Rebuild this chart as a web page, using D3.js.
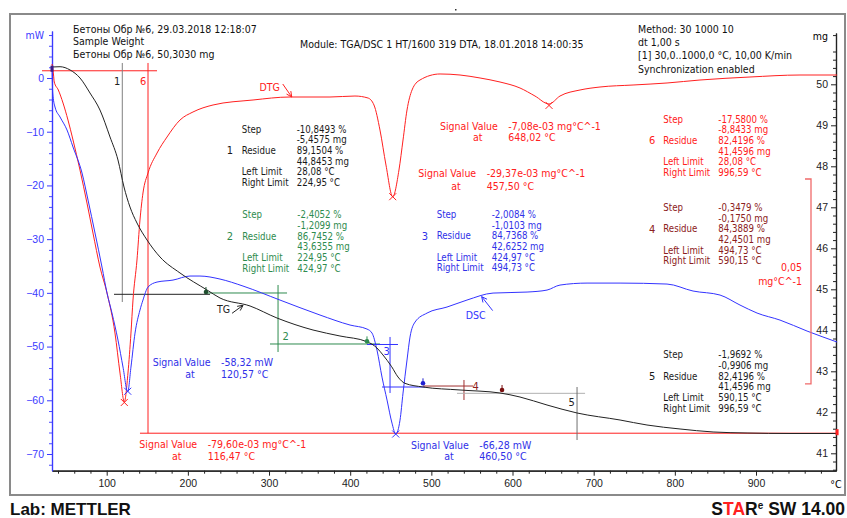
<!DOCTYPE html>
<html>
<head>
<meta charset="utf-8">
<script src="https://cdn.jsdelivr.net/npm/d3@7"></script>
<style>
  body { margin: 0; background: #fff; }
  svg { display: block; font-family: "DejaVu Sans Condensed", "DejaVu Sans", sans-serif; font-stretch: condensed; }
</style>
</head>
<body>
<svg id="chart" width="847" height="518"></svg>
<script>
// ---- data ----
// DSC (mW) vs temperature (°C)
const dscT  = [32.6,33.5,36.3,42.5,51.1,58.5,69.6,77.0,85.6,94.2,100.4,106.5,113.9,120.1,125.9,129.9,134.9,141.0,144.7,150.9,162.0,181.7,202.6,214.9,239.6,267.9,313.5,362.8,399.8,420.7,426.9,433.0,439.2,445.4,451.5,456.1,461.4,465.1,470.0,473.7,479.9,494.7,519.3,543.9,576.0,617.9,642.5,658.5,691.8,732.5,790.4,822.4,855.7,880.3,901.3,929.6,962.9,999.9];
const dscMW = [1.86,-2.79,-5.40,-7.26,-9.68,-12.85,-17.69,-22.72,-28.86,-35.20,-40.04,-43.76,-48.79,-53.82,-58.42,-53.82,-47.49,-43.20,-41.34,-38.92,-37.99,-37.62,-36.87,-36.87,-37.43,-38.73,-41.34,-44.13,-45.99,-46.74,-47.49,-50.65,-55.68,-59.96,-64.25,-66.29,-63.69,-58.66,-52.51,-48.23,-45.44,-43.76,-42.64,-41.34,-40.04,-39.85,-39.48,-38.55,-38.18,-38.18,-38.36,-39.66,-40.41,-42.27,-43.76,-45.07,-47.11,-49.16];

// TG (mg)
const tgT  = [32.6,42.5,54.9,67.1,79.4,91.7,104.1,113.9,121.3,128.7,137.3,149.7,165.7,190.3,223.6,239.6,276.6,309.8,354.2,387.4,420.7,433.0,440.4,451.1,458.9,467.5,489.7,535.3,584.6,609.2,642.5,679.5,732.5,765.7,806.4,847.1,889.0,941.9,999.9];
const tgMG = [50.422,50.429,50.349,50.154,49.788,49.373,48.715,48.154,47.495,47.007,46.617,46.202,45.788,45.398,44.983,44.788,44.593,44.300,44.007,43.861,43.722,43.568,43.398,43.112,42.861,42.707,42.617,42.544,42.471,42.373,42.178,41.983,41.812,41.690,41.593,41.520,41.495,41.483,41.483];

// DTG (1e-3 mg/°C)
const dtgT = [32.6,34.5,35.4,40.4,46.2,52.3,58.5,67.1,75.7,83.1,91.7,100.4,110.2,116.4,121.7,126.2,129.9,132.4,137.3,141.0,144.7,150.9,162.0,174.3,190.3,206.3,231.0,280.3,325.8,375.1,405.9,421.9,429.3,436.7,444.1,452.4,460.1,465.1,470.0,476.2,486.0,510.7,535.3,560.0,584.6,609.2,627.7,645.0,658.5,683.2,707.8,748.5,790.4,831.0,892.6,954.2,999.9];
const dtgV = [3.03,0.34,-1.37,-3.32,-6.50,-10.65,-15.53,-22.86,-30.92,-38.24,-46.54,-52.89,-62.66,-72.43,-79.44,-72.43,-62.66,-54.60,-44.83,-35.07,-28.47,-23.59,-18.71,-14.80,-10.65,-8.69,-6.98,-5.76,-5.03,-5.03,-4.79,-5.27,-6.98,-13.09,-21.64,-29.38,-22.86,-15.53,-8.21,-3.32,-0.88,0.59,0.34,-0.39,-1.37,-2.83,-4.79,-6.74,-4.79,-3.32,-2.59,-2.10,-1.61,-0.88,-0.15,0.34,0.34];

// axis ticks
const xMajor  = [100,200,300,400,500,600,700,800,900];
const mwMajor = [0,-10,-20,-30,-40,-50,-60,-70];
const mgMajor = [41,42,43,44,45,46,47,48,49,50];

// evaluated peaks: [T, value]
const dscPeaks = [[125.9,-58.32],[456.1,-66.28]];
const dtgPeaks = [[121.7,-79.60],[452.4,-29.37],[645.0,-7.08]];

// step evaluation lines in (°C, mg)
const stepLines = [
  {c:"#ff2020", p:[[20.3,50.33],[162.0,50.33]]},
  {c:"#ff2020", p:[[150.9,50.52],[150.9,41.49]]},
  {c:"#ff2020", p:[[141.0,41.49],[999.9,41.49]]},
  {c:"#808080", p:[[119.2,50.52],[119.2,44.69]]},
  {c:"#222222", p:[[109.0,44.878],[227.3,44.878]]},
  {c:"#2e8b4e", p:[[221.1,44.91],[322.2,44.91]]},
  {c:"#2e8b4e", p:[[311.1,45.105],[311.1,43.471]]},
  {c:"#2e8b4e", p:[[301.2,43.666],[436.7,43.666]]},
  {c:"#3333ff", p:[[420.7,43.654],[458.9,43.654]]},
  {c:"#3333ff", p:[[449.1,43.837],[449.1,42.471]]},
  {c:"#3333ff", p:[[439.2,42.617],[492.2,42.617]]},
  {c:"#a03030", p:[[489.7,42.641],[551.3,42.641]]},
  {c:"#a03030", p:[[540.2,42.788],[540.2,42.300]]},
  {c:"#b0b0b0", p:[[531.6,42.463],[689.4,42.463]]},
  {c:"#707070", p:[[679.5,42.617],[679.5,41.324]]}
];
const stepDots = [[222.3,44.934,"#1f4f2f"],[420.7,43.73,"#2e8b4e"],[489.7,42.707,"#2020d0"],[587.1,42.544,"#7a1010"]];

const blockLabels = ["Step","","Residue","","Left Limit","Right Limit"];
const step1 = ["-10,8493 %","-5,4575 mg","89,1504 %","44,8453 mg","28,08 °C","224,95 °C"];
const step2 = ["-2,4052 %","-1,2099 mg","86,7452 %","43,6355 mg","224,95 °C","424,97 °C"];
const step3 = ["-2,0084 %","-1,0103 mg","84,7368 %","42,6252 mg","424,97 °C","494,73 °C"];
const step4 = ["-0,3479 %","-0,1750 mg","84,3889 %","42,4501 mg","494,73 °C","590,15 °C"];
const step5 = ["-1,9692 %","-0,9906 mg","82,4196 %","41,4596 mg","590,15 °C","996,59 °C"];
const step6 = ["-17,5800 %","-8,8433 mg","82,4196 %","41,4596 mg","28,08 °C","996,59 °C"];

// ---- scales ----
const x     = d3.scaleLinear().domain([100, 900]).range([106.7, 756]);
const yMW   = d3.scaleLinear().domain([0, -70]).range([78, 454]);
const yMG   = d3.scaleLinear().domain([50, 41]).range([84.3, 453.3]);
const yDTG  = d3.scaleLinear().domain([0, -50]).range([76.4, 281.2]);

const svg = d3.select("#chart");
const BLUE = "#3333ff", RED = "#ff2020", GREEN = "#2e8b4e", DRED = "#8b2020";

// frame
svg.append("rect").attr("x", 10).attr("y", 14).attr("width", 835).attr("height", 481)
  .attr("fill", "none").attr("stroke", "#8a8a8a").attr("stroke-width", 2);
svg.append("rect").attr("x", 455).attr("y", 9).attr("width", 1.5).attr("height", 1.5).attr("fill", "#333");

// ---- axes ----
function styleAxis(g, color, size) {
  g.selectAll("path, line").attr("stroke", color);
  g.selectAll("text").attr("fill", color).attr("font-size", size);
}
const xA = x.copy().domain([x.invert(52), x.invert(836)]).range([52, 836]);
const minorX = d3.range(40, 1000, 20).filter(d => d % 100 !== 0);
svg.append("g").attr("transform", "translate(0,470.7)")
  .call(d3.axisBottom(xA).tickValues(minorX).tickSize(3).tickSizeOuter(0).tickFormat(""))
  .call(g => styleAxis(g, "#222", 10.5));
svg.append("g").attr("transform", "translate(0,470.7)")
  .call(d3.axisBottom(xA).tickValues(xMajor).tickSize(5).tickSizeOuter(0).tickPadding(4))
  .call(g => styleAxis(g, "#222", 10.5));
svg.append("text").attr("x", 836).attr("y", 484).attr("dy", "0.35em").attr("text-anchor", "middle")
  .attr("font-size", 10.5).text("°C");

const yMWa = yMW.copy().domain([yMW.invert(31), yMW.invert(470.7)]).range([31, 470.7]);
const minorMW = d3.range(8, -73, -2).filter(d => d % 10 !== 0);
svg.append("g").attr("transform", "translate(52,0)")
  .call(d3.axisLeft(yMWa).tickValues(minorMW).tickSize(3).tickSizeOuter(0).tickFormat(""))
  .call(g => styleAxis(g, "#4a4aff", 10.5));
svg.append("g").attr("transform", "translate(52,0)")
  .call(d3.axisLeft(yMWa).tickValues(mwMajor).tickSize(5).tickSizeOuter(0).tickPadding(3))
  .call(g => styleAxis(g, "#3a3aff", 10.5));
svg.append("text").attr("x", 44).attr("y", 35.5).attr("dy", "0.35em").attr("text-anchor", "end")
  .attr("font-size", 10.5).attr("fill", "#3a3aff").text("mW");

const yMGa = yMG.copy().domain([yMG.invert(33), yMG.invert(470.7)]).range([33, 470.7]);
const minorMG = d3.range(406, 513, 2).map(d => d / 10).filter(d => Math.abs(d - Math.round(d)) > 0.01);
svg.append("g").attr("transform", "translate(836,0)")
  .call(d3.axisLeft(yMGa).tickValues(minorMG).tickSize(3).tickSizeOuter(0).tickFormat(""))
  .call(g => styleAxis(g, "#222", 10.5));
svg.append("g").attr("transform", "translate(836,0)")
  .call(d3.axisLeft(yMGa).tickValues(mgMajor).tickSize(5).tickSizeOuter(0).tickPadding(3))
  .call(g => styleAxis(g, "#222", 10.5));
svg.append("text").attr("x", 828).attr("y", 36).attr("dy", "0.35em").attr("text-anchor", "end")
  .attr("font-size", 10.5).text("mg");
svg.selectAll(".domain").attr("stroke-width", 1.2);

// ---- step evaluation lines ----
svg.append("g").selectAll("line").data(stepLines).join("line")
  .attr("x1", d => x(d.p[0][0])).attr("y1", d => yMG(d.p[0][1]))
  .attr("x2", d => x(d.p[1][0])).attr("y2", d => yMG(d.p[1][1]))
  .attr("stroke", d => d.c).attr("stroke-width", 1);

// ---- curves ----
const lineOf = (xs, ys, yScale) => d3.line().curve(d3.curveMonotoneX)
  .x((d, i) => x(xs[i])).y((d, i) => yScale(ys[i]))(xs);
svg.append("path").attr("d", lineOf(dtgT, dtgV, yDTG)).attr("fill", "none").attr("stroke", RED).attr("stroke-width", 1);
svg.append("path").attr("d", lineOf(dscT, dscMW, yMW)).attr("fill", "none").attr("stroke", BLUE).attr("stroke-width", 1);
svg.append("path").attr("d", lineOf(tgT, tgMG, yMG)).attr("fill", "none").attr("stroke", "#222").attr("stroke-width", 1);

// start / end markers
svg.append("rect").attr("x", x(32.6) - 1.5).attr("y", yMG(50.38) - 3).attr("width", 3).attr("height", 6).attr("fill", "#3a1a8a");
svg.append("rect").attr("x", x(999.9) - 1.5).attr("y", yMG(41.49) - 4).attr("width", 3).attr("height", 6).attr("fill", RED);

// dots on TG
svg.append("g").selectAll("g").data(stepDots).join("g")
  .attr("transform", d => `translate(${x(d[0])},${yMG(d[1])})`)
  .call(g => {
    g.append("line").attr("y1", -5).attr("y2", 0).attr("stroke", d => d[2]);
    g.append("circle").attr("r", 2.3).attr("fill", d => d[2]);
  });

// peak crosses
function cross(px, py, color) {
  const s = 3.5;
  svg.append("path").attr("d", `M${px - s},${py - s}L${px + s},${py + s}M${px - s},${py + s}L${px + s},${py - s}`)
    .attr("stroke", color).attr("stroke-width", 1).attr("fill", "none");
}
dscPeaks.forEach(d => cross(x(d[0]), yMW(d[1]), BLUE));
dtgPeaks.forEach(d => cross(x(d[0]), yDTG(d[1]), RED));

// DTG scale bar 0,05 mg°C^-1
const barTop = yDTG(-25.05), barBot = yDTG(-75.05);
svg.append("path").attr("d", `M805,${barTop}H811V${barBot}H805`).attr("fill", "none")
  .attr("stroke", "#f06a6a").attr("stroke-width", 1.3);
svg.append("text").attr("x", 802).attr("y", 267.5).attr("dy", "0.35em").attr("text-anchor", "end")
  .attr("font-size", 10.5).attr("fill", RED).text("0,05");
svg.append("text").attr("x", 802).attr("y", 281.7).attr("dy", "0.35em").attr("text-anchor", "end")
  .attr("font-size", 10.5).attr("fill", RED).text("mg°C^-1");

// ---- curve name arrows ----
function arrow(x1, y1, x2, y2, color) {
  const a = Math.atan2(y2 - y1, x2 - x1), L = 6, w = 0.45;
  svg.append("path")
    .attr("d", `M${x1},${y1}L${x2},${y2}M${x2 - L * Math.cos(a - w)},${y2 - L * Math.sin(a - w)}L${x2},${y2}L${x2 - L * Math.cos(a + w)},${y2 - L * Math.sin(a + w)}`)
    .attr("stroke", color).attr("fill", "none").attr("stroke-width", 1);
}
const tipDTG = [x(328), yDTG(-5.03)], tipTG = [x(268), yMG(44.61)], tipDSC = [x(562), yMW(-40.7)];
arrow(tipDTG[0] - 9, tipDTG[1] - 13, tipDTG[0], tipDTG[1], RED);
svg.append("text").attr("x", tipDTG[0] - 12).attr("y", tipDTG[1] - 10).attr("dy", "0.35em").attr("text-anchor", "end")
  .attr("font-size", 10.5).attr("fill", RED).text("DTG");
arrow(tipTG[0] - 11, tipTG[1] + 8, tipTG[0], tipTG[1], "#222");
svg.append("text").attr("x", tipTG[0] - 13).attr("y", tipTG[1] + 4).attr("dy", "0.35em").attr("text-anchor", "end")
  .attr("font-size", 10.5).attr("fill", "#222").text("TG");
arrow(tipDSC[0] + 11, tipDSC[1] + 14, tipDSC[0], tipDSC[1], BLUE);
svg.append("text").attr("x", tipDSC[0] + 4).attr("y", tipDSC[1] + 19).attr("dy", "0.35em").attr("text-anchor", "end")
  .attr("font-size", 10.5).attr("fill", BLUE).text("DSC");

// step numbers
[["1", 114, 81, "#222"], ["6", 140, 81, RED], ["2", 282.5, 336.5, GREEN], ["3", 383.5, 351.5, BLUE],
 ["4", 472.5, 386, DRED], ["5", 568.5, 402, "#222"]].forEach(d => {
  svg.append("text").attr("x", d[1]).attr("y", d[2]).attr("dy", "0.35em").attr("font-size", 11)
    .attr("fill", d[3]).text(d[0]);
});

// ---- result tables ----
function block(num, vals, color, nx, lx, vx, y0) {
  const g = svg.append("g").attr("fill", color).attr("font-size", 9.6);
  blockLabels.forEach((t, i) => {
    if (t) g.append("text").attr("x", lx).attr("y", y0 + i * 10.65).attr("dy", "0.35em").text(t);
    g.append("text").attr("x", vx).attr("y", y0 + i * 10.65).attr("dy", "0.35em").text(vals[i]);
  });
  g.append("text").attr("x", nx).attr("y", y0 + 2 * 10.65).attr("dy", "0.35em").attr("font-size", 11).text(num);
}
block("1", step1, "#1a1a1a", 226.7, 241.7, 296.7, 129.3);
block("2", step2, GREEN, 226.7, 242.3, 297.3, 215);
block("3", step3, "#3030e8", 421.7, 436.7, 491.7, 214.7);
block("6", step6, RED, 649, 663.3, 718.3, 119.3);
block("4", step4, DRED, 649, 663.3, 718.3, 207.7);
block("5", step5, "#1a1a1a", 649, 663.3, 718.3, 355);

// signal value notes
function signal(val, at, color, lx, vx, ax, y0, y1) {
  const g = svg.append("g").attr("fill", color).attr("font-size", 10.5);
  g.append("text").attr("x", lx).attr("y", y0).attr("dy", "0.35em").text("Signal Value");
  g.append("text").attr("x", vx).attr("y", y0).attr("dy", "0.35em").text(val);
  g.append("text").attr("x", ax).attr("y", y1).attr("dy", "0.35em").attr("text-anchor", "middle").text("at");
  g.append("text").attr("x", vx).attr("y", y1).attr("dy", "0.35em").text(at);
}
signal("-7,08e-03 mg°C^-1", "648,02 °C", RED, 440, 508.3, 477.7, 126, 137.7);
signal("-29,37e-03 mg°C^-1", "457,50 °C", RED, 418.3, 486.7, 456, 173.3, 186);
signal("-58,32 mW", "120,57 °C", "#3030e8", 152.7, 221, 190, 362.3, 374.3);
signal("-79,60e-03 mg°C^-1", "116,47 °C", RED, 139.3, 207.7, 176.7, 444.3, 456);
signal("-66,28 mW", "460,50 °C", "#3030e8", 411, 479.3, 449, 445, 456.7);

// ---- header ----
const head = svg.append("g").attr("font-size", 10.5).attr("fill", "#111");
["Бетоны Обр №6, 29.03.2018 12:18:07", "Sample Weight", "Бетоны Обр №6, 50,3030 mg"].forEach((t, i) => {
  head.append("text").attr("x", 73).attr("y", 29.3 + i * 12.3).attr("dy", "0.35em").text(t);
});
head.append("text").attr("x", 300).attr("y", 44).attr("dy", "0.35em").text("Module: TGA/DSC 1 HT/1600 319 DTA, 18.01.2018 14:00:35");
["Method: 30 1000 10", "dt 1,00 s", "[1] 30,0..1000,0 °C, 10,00 K/min", "Synchronization enabled"].forEach((t, i) => {
  head.append("text").attr("x", 638).attr("y", 29 + i * 13.3).attr("dy", "0.35em").text(t);
});

// ---- footer ----
svg.append("text").attr("x", 10).attr("y", 515).attr("font-family", "'Liberation Sans', Arial, sans-serif")
  .attr("font-size", 17).attr("font-weight", "bold").attr("font-stretch", "normal").attr("fill", "#111").text("Lab: METTLER");
const star = svg.append("text").attr("x", 845).attr("y", 515).attr("text-anchor", "end")
  .attr("font-family", "'Liberation Sans', Arial, sans-serif").attr("font-stretch", "normal")
  .attr("font-weight", "bold").attr("font-size", 17.5).attr("fill", "#111");
star.append("tspan").text("S");
star.append("tspan").attr("fill", RED).text("TA");
star.append("tspan").text("R");
star.append("tspan").attr("font-size", 10).attr("dy", -6).text("e");
star.append("tspan").attr("dy", 6).text(" SW 14.00");
</script>
</body>
</html>
